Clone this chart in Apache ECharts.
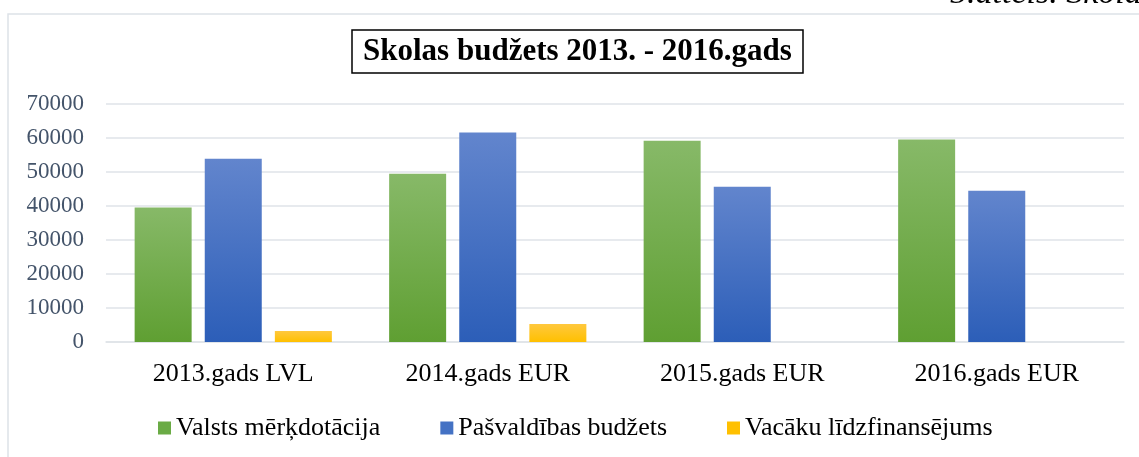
<!DOCTYPE html>
<html>
<head>
<meta charset="utf-8">
<script src="https://cdn.jsdelivr.net/npm/echarts@6/dist/echarts.min.js"></script>
<style>
  html, body { margin: 0; padding: 0; background: #fff; }
  #chart { width: 1139px; height: 457px; }
</style>
</head>
<body>
<div id="chart"></div>
<script>
// dati
const categories = ['2013.gads LVL', '2014.gads EUR', '2015.gads EUR', '2016.gads EUR'];
const valstsMerkdotacija = [39500, 49400, 59100, 59400];
const pasvaldibasBudzets = [53800, 61500, 45600, 44400];
const vacakuLidzfinansejums = [3200, 5300, null, null];
const yTicks = [0, 10000, 20000, 30000, 40000, 50000, 60000, 70000];

const SERIF = '"Liberation Serif", "Times New Roman", serif';
const GRID_COLOR = '#dfe3e8';

// vertikāls gradients katram stabiņam
function grad(top, bottom) {
  return new echarts.graphic.LinearGradient(0, 0, 0, 1, [
    { offset: 0, color: top },
    { offset: 1, color: bottom },
  ]);
}

const legendColors = {
  'Valsts mērķdotācija': '#6aab45',
  'Pašvaldības budžets': '#4472c4',
  'Vacāku līdzfinansējums': '#ffc000',
};

const chart = echarts.init(document.getElementById('chart'));

const option = {
  animation: false,
  title: {
    text: 'Skolas budžets 2013. - 2016.gads',
    left: 352,
    top: 30,
    padding: [5, 11, 4, 11],
    borderColor: '#000',
    borderWidth: 1.5,
    textStyle: {
      fontFamily: SERIF,
      fontWeight: 'bold',
      fontSize: 31,
      lineHeight: 34,
      color: '#000',
    },
  },
  graphic: [
    {
      type: 'rect',
      shape: { x: 8, y: 14, width: 1140, height: 450 },
      style: { fill: 'none', stroke: '#dde2e8', lineWidth: 1.5 },
      z: -1,
    },
    {
      type: 'text',
      x: 950,
      y: -23,
      style: {
        text: '5.attēls. Skolas budžets',
        font: 'italic 34px "Liberation Serif", serif',
        fill: '#000',
      },
    },
  ],
  legend: {
    left: 158,
    top: 415,
    padding: 0,
    icon: 'rect',
    itemWidth: 13,
    itemHeight: 13,
    itemGap: 60,
    textStyle: {
      fontFamily: SERIF,
      fontSize: 26,
      lineHeight: 26,
      color: '#000',
    },
  },
  grid: {
    left: 106,
    right: 15,
    top: 103.5,
    bottom: 115,
  },
  xAxis: {
    type: 'category',
    data: categories,
    axisTick: { show: false },
    axisLine: { lineStyle: { color: GRID_COLOR, width: 1.5 } },
    axisLabel: {
      margin: 19,
      fontFamily: SERIF,
      fontSize: 26,
      color: '#000',
    },
  },
  yAxis: {
    type: 'value',
    min: yTicks[0],
    max: yTicks[yTicks.length - 1],
    interval: 10000,
    axisLine: { show: false },
    axisTick: { show: false },
    axisLabel: {
      margin: 22,
      fontFamily: SERIF,
      fontSize: 23,
      color: '#44546a',
      formatter: (v) => String(v),
    },
    splitLine: { lineStyle: { color: GRID_COLOR, width: 1.5 } },
  },
  series: [
    {
      name: 'Valsts mērķdotācija',
      type: 'bar',
      data: valstsMerkdotacija,
      barWidth: 57,
      barGap: '23%',
      itemStyle: { color: grad('#87b968', '#5f9f32') },
    },
    {
      name: 'Pašvaldības budžets',
      type: 'bar',
      data: pasvaldibasBudzets,
      barWidth: 57,
      itemStyle: { color: grad('#6285cd', '#2c5eb8') },
    },
    {
      name: 'Vacāku līdzfinansējums',
      type: 'bar',
      data: vacakuLidzfinansejums,
      barWidth: 57,
      itemStyle: { color: grad('#ffc83e', '#ffc000') },
    },
  ],
};

option.legend.data = option.series.map((s) => ({
  name: s.name,
  itemStyle: { color: legendColors[s.name] },
}));

chart.setOption(option);
</script>
</body>
</html>
